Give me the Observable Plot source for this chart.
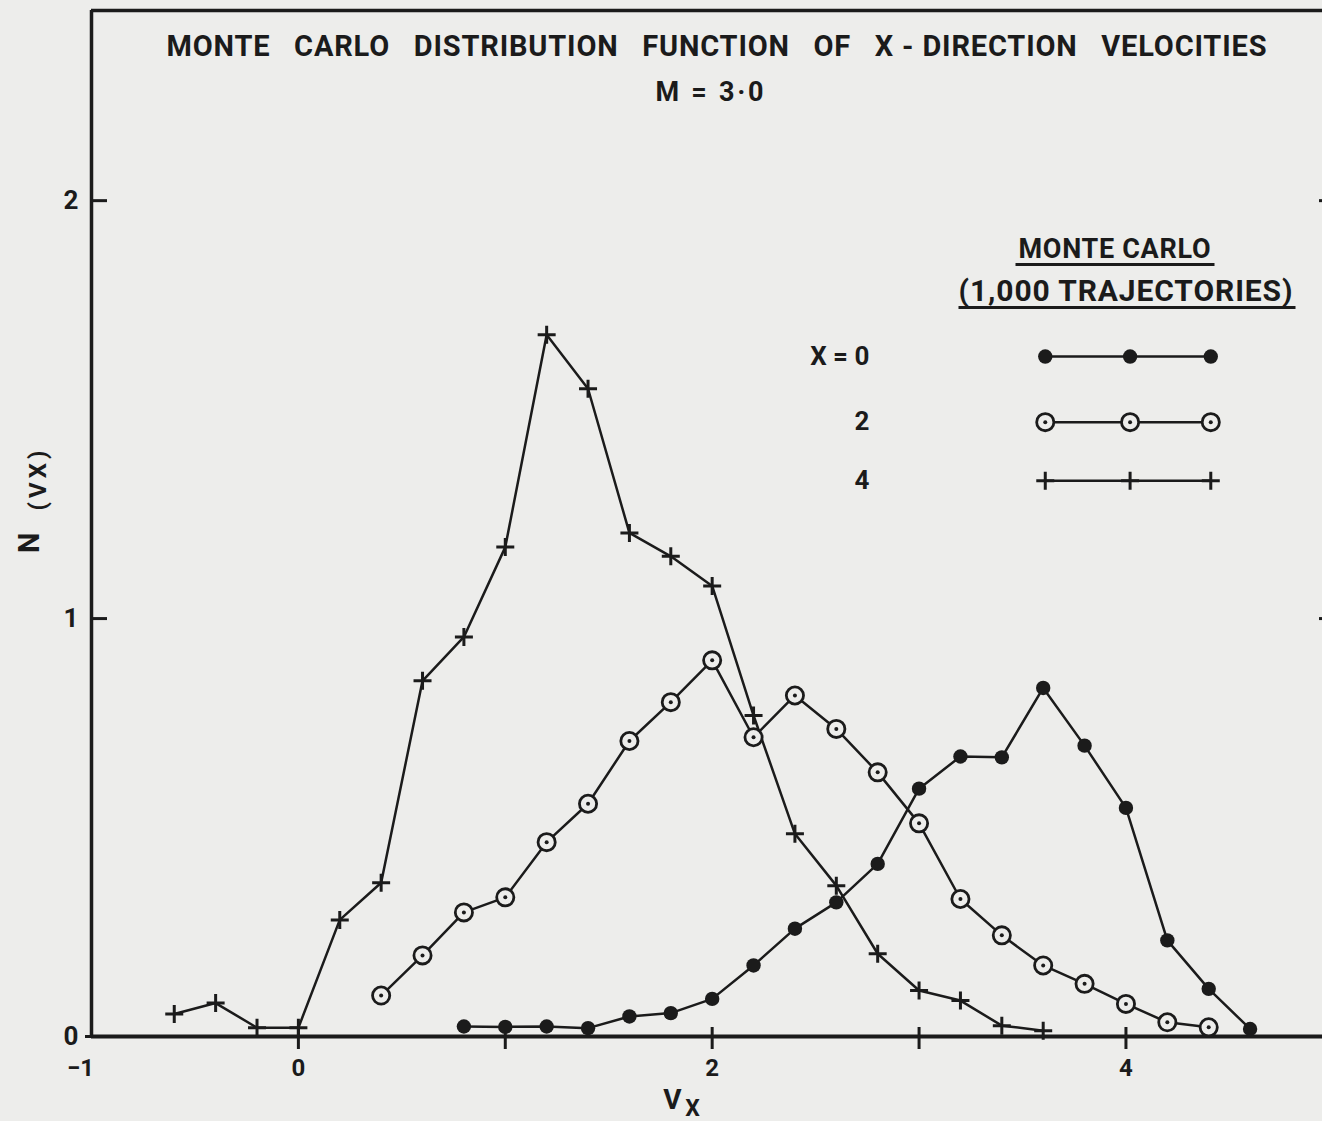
<!DOCTYPE html>
<html>
<head>
<meta charset="utf-8">
<script src="https://cdn.jsdelivr.net/npm/d3@7"></script>
<script src="https://cdn.jsdelivr.net/npm/@observablehq/plot@0.6"></script>
<style>
  html, body { margin: 0; padding: 0; background: #ededeb; }
  #chart svg { display: block; }
</style>
</head>
<body>
<div id="chart"></div>
<script>
// ---- Data ----
const vx0 = [0.8, 1.0, 1.2, 1.4, 1.6, 1.8, 2.0, 2.2, 2.4, 2.6, 2.8, 3.0, 3.2, 3.4, 3.6, 3.8, 4.0, 4.2, 4.4, 4.6];
const n0  = [0.024, 0.023, 0.024, 0.020, 0.048, 0.056, 0.090, 0.170, 0.258, 0.321, 0.413, 0.593, 0.670, 0.668, 0.834, 0.696, 0.547, 0.230, 0.114, 0.018];

const vx2 = [0.4, 0.6, 0.8, 1.0, 1.2, 1.4, 1.6, 1.8, 2.0, 2.2, 2.4, 2.6, 2.8, 3.0, 3.2, 3.4, 3.6, 3.8, 4.0, 4.2, 4.4];
const n2  = [0.098, 0.194, 0.297, 0.333, 0.465, 0.557, 0.707, 0.800, 0.900, 0.716, 0.816, 0.736, 0.632, 0.510, 0.329, 0.242, 0.170, 0.126, 0.078, 0.034, 0.022];

const vx4 = [-0.6, -0.4, -0.2, 0.0, 0.2, 0.4, 0.6, 0.8, 1.0, 1.2, 1.4, 1.6, 1.8, 2.0, 2.2, 2.4, 2.6, 2.8, 3.0, 3.2, 3.4, 3.6];
const n4  = [0.054, 0.080, 0.021, 0.021, 0.279, 0.368, 0.851, 0.956, 1.171, 1.679, 1.550, 1.205, 1.149, 1.078, 0.768, 0.485, 0.361, 0.198, 0.110, 0.086, 0.026, 0.014];

const seriesLabels = ["X = 0", "2", "4"];
const xTicks = [0, 1, 2, 3, 4];
const xTickLabels = [0, 2, 4];
const yTicks = [1, 2];
const yTickLabels = [0, 1, 2];

const titleText = "MONTE\u2002 CARLO\u2002 DISTRIBUTION\u2002 FUNCTION\u2002 OF\u2002 X - DIRECTION\u2002 VELOCITIES";
const subtitleText = "M = 3·0";
const legendHead1 = "MONTE CARLO";
const legendHead2 = "(1,000 TRAJECTORIES)";
const yLabelMain = "N", yLabelSub = "(VX)";
const xLabelMain = "V", xLabelSub = "X";

// legend key (data units, inside the plot)
const keyX = [3.61, 4.02, 4.41];
const keyY = [1.627, 1.470, 1.330];
const keyLabelX = 2.76;

// ---- Build tables ----
const ink = "#1b1b1b", paper = "#ededeb";
const d0 = vx0.map((v, i) => ({vx: v, n: n0[i]}));
const d2 = vx2.map((v, i) => ({vx: v, n: n2[i]}));
const d4 = vx4.map((v, i) => ({vx: v, n: n4[i]}));
const keyRows = [];
seriesLabels.forEach((s, j) => keyX.forEach(x => keyRows.push({s, kx: x, ky: keyY[j]})));
const key0 = keyRows.filter(d => d.s === seriesLabels[0]);
const key2 = keyRows.filter(d => d.s === seriesLabels[1]);
const key4 = keyRows.filter(d => d.s === seriesLabels[2]);
const keyLabels = seriesLabels.map((s, j) => ({s, ky: keyY[j]}));

const cross = {
  draw(ctx, size) {
    const r = Math.sqrt(size / Math.PI);
    ctx.moveTo(-r, 0); ctx.lineTo(r, 0);
    ctx.moveTo(0, -r); ctx.lineTo(0, r);
  }
};

const lineOpts = {x: "vx", y: "n", stroke: ink, strokeWidth: 2.5};
const fw = "bold";
const intFmt = d => String(d);

const chart = Plot.plot({
  width: 1322,
  height: 1121,
  marginLeft: 91,
  marginRight: 0,
  marginTop: 10,
  marginBottom: 85,
  x: {domain: [-1, 4.95]},
  y: {domain: [0, 2.455]},
  style: {background: "transparent", fontFamily: "Roboto, 'DejaVu Sans', sans-serif", color: ink},
  marks: [
    // frame & axes
    Plot.ruleX([-1], {stroke: ink, strokeWidth: 3.5}),
    Plot.ruleY([2.455], {stroke: ink, strokeWidth: 3.5}),
    Plot.ruleY([0], {stroke: ink, strokeWidth: 4}),
    Plot.axisX({ticks: xTicks, tickSize: 22, dy: -9, tickFormat: () => "", strokeWidth: 3, label: null, stroke: ink}),
    Plot.axisX({ticks: xTickLabels, tickSize: 0, tickPadding: 22, tickFormat: intFmt, fontSize: 24, fontWeight: fw, label: null, fill: ink}),
    Plot.axisX({ticks: [-1], tickSize: 0, tickPadding: 22, dx: -11, tickFormat: () => "\u22121", fontSize: 24, fontWeight: fw, label: null, fill: ink}),
    Plot.axisY({ticks: yTicks, tickSize: 16, dx: 16, tickFormat: () => "", strokeWidth: 3, label: null, stroke: ink}),
    Plot.axisY({ticks: [0], tickSize: 6, tickFormat: () => "", strokeWidth: 3, label: null, stroke: ink}),
    Plot.axisY({ticks: yTicks, anchor: "right", tickSize: 4, dx: -4, tickFormat: () => "", strokeWidth: 3, label: null, stroke: ink}),
    Plot.axisY({ticks: yTickLabels, tickSize: 0, tickPadding: 13, tickFormat: intFmt, fontSize: 26, fontWeight: fw, label: null, fill: ink}),

    // series lines
    Plot.line(d4, lineOpts),
    Plot.line(d2, lineOpts),
    Plot.line(d0, lineOpts),

    // markers
    Plot.dot(d4, {x: "vx", y: "n", symbol: cross, r: 9, stroke: ink, strokeWidth: 3, fill: "none"}),
    Plot.dot(d2, {x: "vx", y: "n", r: 8.6, fill: paper, stroke: ink, strokeWidth: 2.8}),
    Plot.dot(d2, {x: "vx", y: "n", r: 2, fill: ink}),
    Plot.dot(d0, {x: "vx", y: "n", r: 7.2, fill: ink}),

    // legend key
    Plot.line(key0, {x: "kx", y: "ky", stroke: ink, strokeWidth: 2.5}),
    Plot.line(key2, {x: "kx", y: "ky", stroke: ink, strokeWidth: 2.5}),
    Plot.line(key4, {x: "kx", y: "ky", stroke: ink, strokeWidth: 2.5}),
    Plot.dot(key0, {x: "kx", y: "ky", r: 7.2, fill: ink}),
    Plot.dot(key2, {x: "kx", y: "ky", r: 8.6, fill: paper, stroke: ink, strokeWidth: 2.8}),
    Plot.dot(key2, {x: "kx", y: "ky", r: 2, fill: ink}),
    Plot.dot(key4, {x: "kx", y: "ky", symbol: cross, r: 9, stroke: ink, strokeWidth: 3, fill: "none"}),
    Plot.text(keyLabels, {x: () => keyLabelX, y: "ky", text: "s", textAnchor: "end", fontSize: 26, fontWeight: fw, fill: ink}),

    // legend header
    Plot.text([legendHead1], {text: d => d, frameAnchor: "top-left", dx: 1023, dy: 247, lineAnchor: "bottom", textAnchor: "middle", fontSize: 27, fontWeight: fw, fill: ink}),
    Plot.text([legendHead2], {text: d => d, frameAnchor: "top-left", dx: 1034, dy: 290, lineAnchor: "bottom", textAnchor: "middle", fontSize: 30, fontWeight: fw, fill: ink}),

    // title
    Plot.text([titleText], {text: d => d, frameAnchor: "top", dx: 9.5, dy: 45, lineAnchor: "bottom", fontSize: 29, fontWeight: fw, fill: ink}),
    Plot.text([subtitleText], {text: d => d, frameAnchor: "top", dx: 2.5, dy: 90, lineAnchor: "bottom", fontSize: 27, fontWeight: fw, fill: ink}),

    // axis titles
    Plot.text([xLabelMain], {text: d => d, frameAnchor: "bottom", dx: -34.5, dy: 72, lineAnchor: "bottom", fontSize: 28, fontWeight: fw, fill: ink}),
    Plot.text([xLabelSub], {text: d => d, frameAnchor: "bottom", dx: -14.5, dy: 79, lineAnchor: "bottom", fontSize: 23, fontWeight: fw, fill: ink}),
    Plot.text([yLabelMain], {text: d => d, frameAnchor: "left", dx: -53, dy: 29.5, rotate: -90, lineAnchor: "bottom", fontSize: 29, fontWeight: fw, fill: ink}),
    Plot.text([yLabelSub], {text: d => d, frameAnchor: "left", dx: -46, dy: -13, rotate: -90, lineAnchor: "bottom", fontSize: 24, fontWeight: fw, fill: ink})
  ]
});

document.getElementById("chart").appendChild(chart);

// fit text widths to the hand-lettered reference
const sel = d3.select(chart);
function texts(s) {
  return sel.selectAll("text").filter(function() { return this.textContent === s; });
}
texts(titleText).attr("textLength", 1100).attr("lengthAdjust", "spacing");
texts(subtitleText).attr("textLength", 108).attr("lengthAdjust", "spacing");
texts(legendHead1).attr("textLength", 192).attr("lengthAdjust", "spacing");
texts(legendHead2).attr("textLength", 334).attr("lengthAdjust", "spacing");
texts(yLabelSub).attr("textLength", 60).attr("lengthAdjust", "spacing");

// underline the legend header lines
function underline(s, extraL, extraR, gap) {
  texts(s).each(function() {
    const b = this.getBBox();
    const ln = d3.select(this.parentNode).append("line")
      .attr("x1", b.x - extraL).attr("x2", b.x + b.width + extraR)
      .attr("y1", b.y + b.height + gap).attr("y2", b.y + b.height + gap)
      .attr("stroke", ink).attr("stroke-width", 3);
    const t = this.getAttribute("transform");
    if (t) ln.attr("transform", t);
  });
}
underline(legendHead1, 3, 4, 0);
underline(legendHead2, 0, 3, 0);
</script>
</body>
</html>
